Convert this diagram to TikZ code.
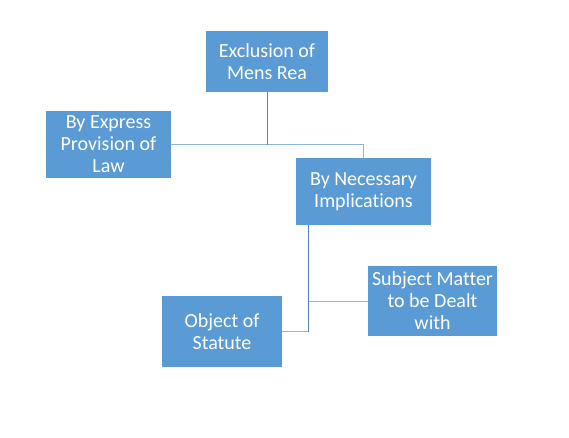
\documentclass[tikz,border=0pt]{standalone}
\usepackage{fontspec}
\setmainfont{Carlito}[Ligatures={NoCommon}]
\definecolor{boxblue}{HTML}{5B9BD5}
\definecolor{linedark}{HTML}{5685B6}
\definecolor{linelight}{HTML}{8FB6DE}
\tikzset{
  box/.style={fill=boxblue, draw=none, text=white, align=center, inner sep=0pt,
    font=\fontsize{15}{16.5}\selectfont},
  link/.style={line width=0.75pt, linelight},
  stem/.style={line width=0.75pt, linedark}
}
\begin{document}
\begin{tikzpicture}[x=0.75pt, y=-0.75pt]

   \useasboundingbox (0,0) rectangle (569,437);

   % boxes
   \node[box, minimum width=91.5pt, minimum height=45.75pt] (excl) at (267, 61.5) {Exclusion of\\Mens Rea};
   \node[box, minimum width=93.75pt, minimum height=50.25pt] (express) at (108.5, 144.5) {By Express\\Provision of\\Law};
   \node[box, minimum width=101.25pt, minimum height=50.25pt] (necessary) at (363.5, 191.5) {By Necessary\\Implications};
   \node[box, minimum width=90pt, minimum height=53.25pt] (object) at (222, 331.5) {Object of\\Statute};
   \node[box, minimum width=96.75pt, minimum height=52.5pt] (subject) at (432.5, 301) {Subject Matter\\to be Dealt\\with};

   % upper connectors
   \draw[link] (express.east) -| (necessary.north);
   \draw[stem] (excl.south) -- (excl.south |- express.east);

   % lower connectors
   \coordinate (trunk) at ([xshift=9.75pt]necessary.south west);
   \draw[link] (object.east) -| (trunk);
   \draw[stem] (trunk) -- (trunk |- object.east);
   \draw[link] (subject.west) -- (subject.west -| trunk);

\end{tikzpicture}
\end{document}
